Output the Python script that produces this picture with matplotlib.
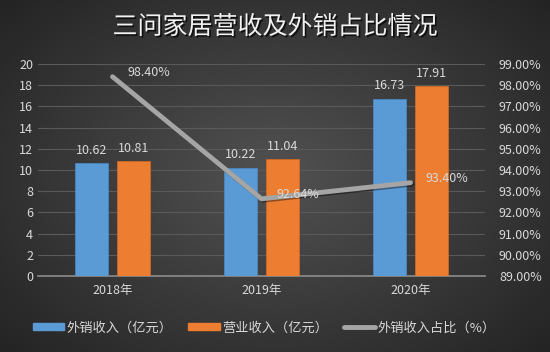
import numpy as np
import matplotlib
matplotlib.use("Agg")
import matplotlib.pyplot as plt
import matplotlib.patheffects as pe
from matplotlib.ticker import FuncFormatter, MultipleLocator
from matplotlib.patches import Patch
from matplotlib.lines import Line2D

plt.rcParams['font.family'] = ['Noto Sans CJK SC', 'DejaVu Sans']

years = ['2018年', '2019年', '2020年']
export_rev = [10.62, 10.22, 16.73]
total_rev = [10.81, 11.04, 17.91]
export_share = [98.40, 92.64, 93.40]

fig = plt.figure(figsize=(5.5, 3.52), dpi=100)

# radial gradient background
bg = fig.add_axes([0, 0, 1, 1], zorder=-10)
yy, xx = np.mgrid[0:352, 0:550]
r = np.sqrt(((xx - 275) / 330.0) ** 2 + ((yy - 176) / 230.0) ** 2)
v = np.clip(0.32 - 0.16 * r, 0.14, 0.32)
bg.imshow(np.dstack([v, v, v]), aspect='auto', extent=[0, 1, 0, 1])
bg.axis('off')

ax = fig.add_axes([38 / 550, 1 - 276 / 352, (485 - 38) / 550, (276 - 64) / 352])
ax.patch.set_alpha(0)
x = np.arange(len(years))
w = 0.22
gap = 0.06
ax.bar(x - w / 2 - gap / 2, export_rev, w, color='#5b9bd5', edgecolor='#4a8ccc', linewidth=0.5, zorder=3)
ax.bar(x + w / 2 + gap / 2, total_rev, w, color='#ed7d31', edgecolor='#d96a20', linewidth=0.5, zorder=3)
for i in range(len(years)):
    ax.text(x[i] - w / 2 - gap / 2, export_rev[i] + 0.6, f'{export_rev[i]:.2f}', ha='center', va='bottom',
            color='#d9d9d9', fontsize=9, zorder=6)
    ax.text(x[i] + w / 2 + gap / 2, total_rev[i] + 0.6, f'{total_rev[i]:.2f}', ha='center', va='bottom',
            color='#d9d9d9', fontsize=9, zorder=6)

ax.set_xlim(-0.5, 2.5)
ax.set_ylim(0, 20)
ax.yaxis.set_major_locator(MultipleLocator(2))
ax.grid(axis='y', color='#5a5a5a', linewidth=0.8, zorder=0)
ax.set_axisbelow(True)
for s in ax.spines.values():
    s.set_visible(False)
ax.spines['bottom'].set_visible(True)
ax.spines['bottom'].set_color('#8c8c8c')
ax.spines['bottom'].set_linewidth(1.2)
ax.tick_params(axis='both', length=0, colors='#d9d9d9', labelsize=9)
ax.set_xticks(x)
ax.set_xticklabels(years)
ax.tick_params(axis='x', pad=6)

ax2 = ax.twinx()
ax2.set_ylim(89, 99)
ax2.yaxis.set_major_locator(MultipleLocator(1))
ax2.yaxis.set_major_formatter(FuncFormatter(lambda v, p: f'{v:.2f}%'))
ax2.tick_params(axis='y', length=0, colors='#d9d9d9', labelsize=9, pad=10)
for s in ax2.spines.values():
    s.set_visible(False)
ax2.plot(x, export_share, color='#a5a5a5', linewidth=3.5, solid_capstyle='round', zorder=5,
         path_effects=[pe.SimpleLineShadow(offset=(1, -1), alpha=0.4), pe.Normal()])
for i in range(len(years)):
    ax2.text(x[i] + 0.1, export_share[i] + 0.2, f'{export_share[i]:.2f}%', ha='left', va='center',
             color='#d9d9d9', fontsize=9, zorder=7)

fig.text(0.5, 1 - 27 / 352, '三问家居营收及外销占比情况', ha='center', va='center', color='#f2f2f2',
         fontsize=18, fontweight='medium',
         path_effects=[pe.withSimplePatchShadow(offset=(1.2, -1.2), shadow_rgbFace='black', alpha=0.7)])

handles = [Patch(color='#5b9bd5'), Patch(color='#ed7d31'),
           Line2D([0], [0], color='#a5a5a5', linewidth=3.5, solid_capstyle='round')]
labels = ['外销收入（亿元）', '营业收入（亿元）', '外销收入占比（%）']
fig.legend(handles, labels, loc='center', bbox_to_anchor=(0.48, 1 - 328 / 352), ncol=3, frameon=False,
           fontsize=9.5, labelcolor='#d9d9d9', handlelength=2.4, handleheight=0.45, handletextpad=0.15,
           columnspacing=1.2)

fig.savefig('out.png', dpi=100)
